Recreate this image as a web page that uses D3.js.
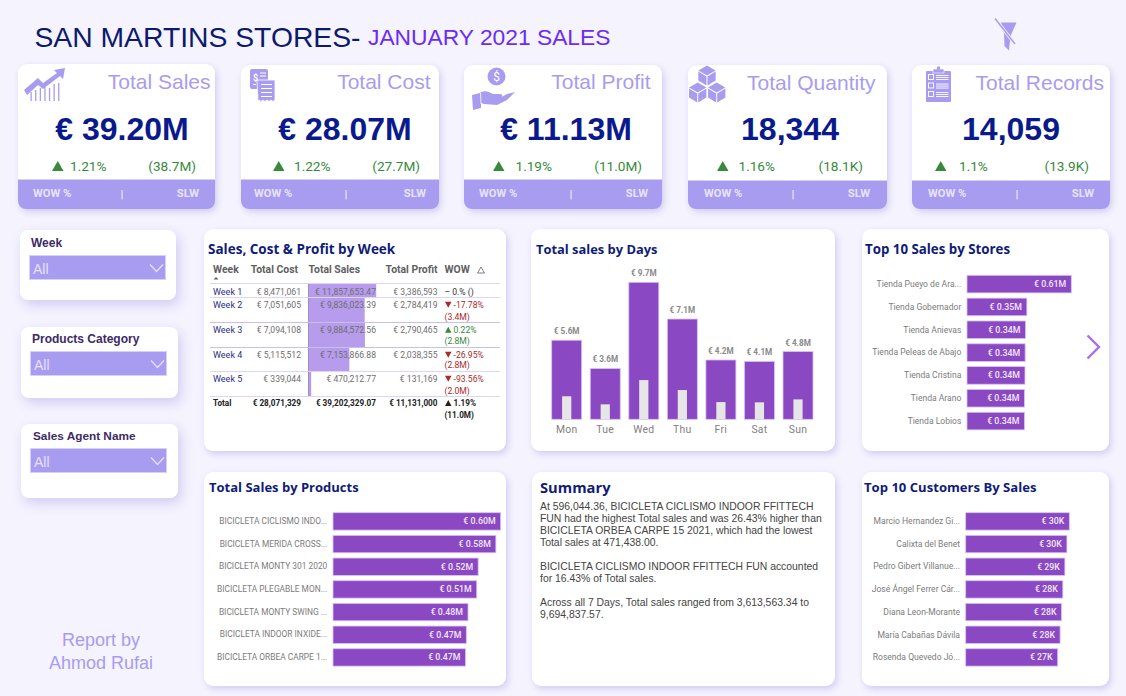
<!DOCTYPE html>
<html>
<head>
<meta charset="utf-8">
<script src="https://cdn.jsdelivr.net/npm/d3@7"></script>
<style>
html,body{margin:0;padding:0;background:#F4F3FE;overflow:hidden}
svg{display:block}
text{font-family:Roboto,sans-serif}
.arial,.arial text{font-family:"Liberation Sans",Arial,sans-serif}
.title{font-family:"Open Sans",sans-serif;font-weight:700;fill:#101C78}
.card{fill:#fff;filter:drop-shadow(2px 3px 3px rgba(170,155,230,.45))}
.slicer{fill:#fff;filter:drop-shadow(3px 5px 6px rgba(170,155,230,.45))}
</style>
</head>
<body>
<div id="dash"></div>
<script>
// KPI tiles
const kpiTitles = ["Total Sales", "Total Cost", "Total Profit", "Total Quantity", "Total Records"];
const kpiValues = ["€ 39.20M", "€ 28.07M", "€ 11.13M", "18,344", "14,059"];
const kpiWow = ["1.21%", "1.22%", "1.19%", "1.16%", "1.1%"];
const kpiSlw = ["(38.7M)", "(27.7M)", "(11.0M)", "(18.1K)", "(13.9K)"];

// Filters
const slicerNames = ["Week", "Products Category", "Sales Agent Name"];

// Weekly table
const weeks = ["Week 1", "Week 2", "Week 3", "Week 4", "Week 5"];
const weekCost = [8471061, 7051605, 7094108, 5115512, 339044];
const weekSales = [11857653.47, 9836023.39, 9884572.56, 7153866.88, 470212.77];
const weekProfit = [3386593, 2784419, 2790465, 2038355, 131169];
const weekWow = [0, -17.78, 0.22, -26.95, -93.56];
const weekPrev = ["", "(3.4M)", "(2.8M)", "(2.8M)", "(2.0M)"];
const totalCost = 28071329, totalSales = 39202329.07, totalProfit = 11131000;

// Sales by weekday, in millions
const days = ["Mon", "Tue", "Wed", "Thu", "Fri", "Sat", "Sun"];
const daySales = [5.6, 3.6, 9.7, 7.1, 4.2, 4.1, 4.8];
const dayProfit = [1.63, 1.06, 2.78, 2.07, 1.22, 1.2, 1.41];

// Ranked lists
const stores = ["Tienda Pueyo de Ara...", "Tienda Gobernador", "Tienda Anievas", "Tienda Peleas de Abajo", "Tienda Cristina", "Tienda Arano", "Tienda Lobios"];
const storeSales = [0.61, 0.35, 0.342, 0.34, 0.339, 0.336, 0.336];
const products = ["BICICLETA CICLISMO INDO...", "BICICLETA MERIDA CROSS...", "BICICLETA MONTY 301 2020", "BICICLETA PLEGABLE MON...", "BICICLETA MONTY SWING ...", "BICICLETA INDOOR INXIDE...", "BICICLETA ORBEA CARPE 1..."];
const productSales = [0.596, 0.579, 0.516, 0.511, 0.48, 0.474, 0.471];
const customers = ["Marcio Hernandez Gi...", "Calixta del Benet", "Pedro Gibert Villanue...", "José Ángel Ferrer Cár...", "Diana Leon-Morante", "María Cabañas Dávila", "Rosenda Quevedo Jó..."];
const customerSales = [30.3, 29.6, 29.0, 28.4, 28.0, 27.6, 26.9];

const summaryLines = [
  "At 596,044.36, BICICLETA CICLISMO INDOOR FFITTECH",
  "FUN had the highest Total sales and was 26.43% higher than",
  "BICICLETA ORBEA CARPE 15 2021, which had the lowest",
  "Total sales at 471,438.00.",
  "BICICLETA CICLISMO INDOOR FFITTECH FUN accounted",
  "for 16.43% of Total sales.",
  "Across all 7 Days, Total sales ranged from 3,613,563.34 to",
  "9,694,837.57."
];

const LILAC = "#A89CF0", PURPLE = "#8B48C3", BAR_EDGE = "#D8C4F4", GREEN = "#378A3C", RED = "#A82A2A", NAVY = "#0A1A8C";

const svg = d3.select("#dash").append("svg").attr("width", 1126).attr("height", 696);

function txt(parent, x, y, s, o = {}) {
  const t = parent.append("text").attr("x", x).attr("y", y).text(s)
    .attr("font-size", o.size || 10).attr("fill", o.fill || "#666");
  if (o.anchor) t.attr("text-anchor", o.anchor);
  if (o.weight) t.attr("font-weight", o.weight);
  if (o.cls) t.attr("class", o.cls);
  return t;
}
function tri(parent, x, yTop, w, h, color, up) {
  const p = up ? [[x, yTop + h], [x + w / 2, yTop], [x + w, yTop + h]] : [[x, yTop], [x + w, yTop], [x + w / 2, yTop + h]];
  return parent.append("path").attr("d", d3.line()(p) + "Z").attr("fill", color);
}

// Page heading
txt(svg, 34.5, 47, "SAN MARTINS STORES-", { size: 28.3, fill: "#0B1A6B", cls: "arial" });
txt(svg, 368, 45.4, "JANUARY 2021 SALES", { size: 22.8, fill: "#6A2CF5", cls: "arial" });

// KPI tiles
const tileBox = [[18, 64, 197], [241, 65, 198], [464, 65, 198], [688, 65, 199], [912, 65, 198]];
const tileCfg = [
  { titleR: 210.5, valueC: 122, tri: 52, pct: 70, slwR: 196, wow: 33, bar: 122, slw: 199 },
  { titleR: 430.5, valueC: 345, tri: 273, pct: 294, slwR: 420, wow: 254, bar: 346, slw: 426 },
  { titleR: 650.5, valueC: 566, tri: 493, pct: 515.5, slwR: 642, wow: 479, bar: 571, slw: 648 },
  { titleR: 875.5, valueC: 790, tri: 717, pct: 738.5, slwR: 863, wow: 704, bar: 793, slw: 870 },
  { titleR: 1104, valueC: 1011, tri: 935, pct: 959, slwR: 1089, wow: 928, bar: 1017, slw: 1094 }
];
kpiTitles.forEach((name, i) => {
  const [x, y, w] = tileBox[i], c = tileCfg[i], bottom = 209, bandTop = i > 2 ? 181 : 180;
  const g = svg.append("g");
  g.append("rect").attr("class", "card").attr("x", x).attr("y", y).attr("width", w).attr("height", bottom - y).attr("rx", 9);
  g.append("path").attr("fill", LILAC)
    .attr("d", `M${x},${bandTop}H${x + w}V${bottom - 8}a8,8 0 0 1 -8,8H${x + 8}a8,8 0 0 1 -8,-8Z`);
  g.append("line").attr("x1", x).attr("x2", x + w).attr("y1", bandTop - .5).attr("y2", bandTop - .5).attr("stroke", "#D6D0F8");
  txt(g, c.titleR, i > 2 ? 90 : 89, name, { size: 21, fill: LILAC, anchor: "end", cls: "arial" });
  txt(g, c.valueC, 140, kpiValues[i], { size: 32, fill: NAVY, anchor: "middle", weight: 700, cls: "arial" });
  tri(g, c.tri, 161, 11.5, 10, GREEN, true);
  txt(g, c.pct, 171, kpiWow[i], { size: 13.6, fill: GREEN });
  txt(g, c.slwR, 171, kpiSlw[i], { size: 13.6, fill: GREEN, anchor: "end" });
  txt(g, c.wow, 197, "WOW %", { size: 11.2, fill: "#E8E3FC", weight: 700 });
  txt(g, c.bar, 198, "|", { size: 11.5, fill: "#F0ECFE", anchor: "middle", weight: 700 });
  txt(g, c.slw, 197, "SLW", { size: 11.2, fill: "#E8E3FC", anchor: "end", weight: 700 });
});

// Tile pictograms
const ic = svg.append("g").attr("fill", LILAC);
ic.append("path").attr("d", "M24,90 L38,78 L43,83 L57,73 L54,70 L65,68 L63,79 L60,76 L43,89 L38,85 L27,95Z");
d3.range(7).forEach(i => ic.append("rect").attr("x", 30.5 + i * 4.6).attr("y", [92, 90, 88, 86, 88, 84, 83][i]).attr("width", 1.3).attr("height", 101 - [92, 90, 88, 86, 88, 84, 83][i]));

ic.append("rect").attr("x", 250).attr("y", 69).attr("width", 18).attr("height", 20).attr("rx", 2);
ic.append("path").attr("d", "M257,80 H275 V100 l-2,1.5 -2,-1.5 -2,1.5 -2,-1.5 -2,1.5 -2,-1.5 -2,1.5 -2,-1.5 -1,1.5Z").attr("stroke", "#fff").attr("stroke-width", .8);
txt(ic, 253, 81, "$", { size: 9, fill: "#fff", weight: 700 });
[[260, 72.5, 6], [260, 75.5, 6], [253, 84, 3], [261, 84, 11], [261, 88, 11], [261, 92, 11], [261, 96, 11]].forEach(d =>
  ic.append("rect").attr("x", d[0]).attr("y", d[1]).attr("width", d[2]).attr("height", 1).attr("fill", "#fff"));

ic.append("circle").attr("cx", 496.5).attr("cy", 76.5).attr("r", 9);
txt(ic, 496.5, 81, "$", { size: 12, fill: "#fff", anchor: "middle" });
ic.append("path").attr("d", "M472,95 L480,93 C484,90 488,91 493,94 L500,94 C503,94 503,97 500,98 L507,94 L515,92 L507,100 L497,105 L484,104 L481,103 L481,108 L473,110Z");
ic.append("line").attr("x1", 480.5).attr("y1", 93).attr("x2", 481).attr("y2", 104).attr("stroke", "#fff").attr("stroke-width", .8);

const cube = (cx, cy, r) => {
  const h = r * 0.866, top = [[cx, cy - r], [cx + h, cy - r / 2], [cx, cy], [cx - h, cy - r / 2]],
    left = [[cx - h, cy - r / 2 + 1], [cx - .5, cy + 1], [cx - .5, cy + r], [cx - h, cy + r / 2]],
    right = [[cx + h, cy - r / 2 + 1], [cx + .5, cy + 1], [cx + .5, cy + r], [cx + h, cy + r / 2]];
  [top, left, right].forEach(p => ic.append("path").attr("d", d3.line()(p) + "Z"));
};
cube(707, 75.5, 10); cube(697.7, 92.5, 10); cube(716.7, 92.5, 10);

ic.append("rect").attr("x", 926).attr("y", 71).attr("width", 25).attr("height", 31).attr("rx", 1);
ic.append("rect").attr("x", 933).attr("y", 69).attr("width", 11).attr("height", 4).attr("stroke", "#fff").attr("stroke-width", .6);
ic.append("circle").attr("cx", 938.5).attr("cy", 68).attr("r", 1.8);
[77, 85.5, 94].forEach(y => {
  ic.append("rect").attr("x", 928.5).attr("y", y - 2.5).attr("width", 5).attr("height", 5).attr("fill", "none").attr("stroke", "#fff").attr("stroke-width", .9);
  [-1.5, 0.5, 2.5].forEach(d => ic.append("rect").attr("x", 936).attr("y", y + d - .4).attr("width", 12.5).attr("height", .9).attr("fill", "#fff"));
});

// Clear-filters glyph
ic.append("path").attr("d", "M1001,22.5 H1016.5 L1010.5,36 L1009,50.5 L1004.5,46 L1004,33Z");
ic.append("line").attr("x1", 995).attr("y1", 18.5).attr("x2", 1015).attr("y2", 44).attr("stroke", "#F4F3FE").attr("stroke-width", 3);
ic.append("line").attr("x1", 995).attr("y1", 18.5).attr("x2", 1015).attr("y2", 44).attr("stroke", LILAC).attr("stroke-width", 1.5);

// Filter cards
const slicerBox = [[20, 230, 156, 70, 30, 256], [21, 327, 157, 71, 31, 352], [21, 424, 157, 74, 31, 449]];
slicerNames.forEach((name, i) => {
  const [x, y, w, h, dx, dy] = slicerBox[i], g = svg.append("g");
  g.append("rect").attr("class", "slicer").attr("x", x).attr("y", y).attr("width", w).attr("height", h).attr("rx", 8);
  txt(g, dx + (i === 2 ? 2 : 1), dy - 9, name, { size: i === 2 ? 11.8 : 12, fill: "#3D2A66", weight: 700, cls: "arial" });
  g.append("rect").attr("x", dx - .5).attr("y", dy - .5).attr("width", 136).attr("height", 24).attr("fill", LILAC).attr("stroke", "#D6D0F8");
  txt(g, dx + 3, dy + 18, "All", { size: 14, fill: "#E6E1FC", cls: "arial" });
  g.append("path").attr("d", `M${dx + 120},${dy + 8.5} L${dx + 126.5},${dy + 15.5} L${dx + 133},${dy + 8.5}`).attr("fill", "none").attr("stroke", "#E4DFFC").attr("stroke-width", 1.4);
});

// Report panels
[[204, 229, 302, 222], [531, 229, 304, 222], [862, 229, 247, 222], [204, 472, 302, 214], [532, 472, 303, 214], [862, 472, 247, 214]].forEach(b =>
  svg.append("rect").attr("class", "card").attr("x", b[0]).attr("y", b[1]).attr("width", b[2]).attr("height", b[3]).attr("rx", 9));
txt(svg, 208, 254, "Sales, Cost & Profit by Week", { size: 13.5, cls: "title" });
txt(svg, 536, 254, "Total sales by Days", { size: 12.9, cls: "title" });
txt(svg, 865, 254, "Top 10 Sales by Stores", { size: 13.3, cls: "title" });
txt(svg, 209, 492, "Total Sales by Products", { size: 13, cls: "title" });
txt(svg, 540, 493, "Summary", { size: 14.7, cls: "title" });
txt(svg, 864, 492, "Top 10 Customers By Sales", { size: 13.1, cls: "title" });

// Weekly table
const tbl = svg.append("g");
const COL = { week: 213, cost: 301, salesR: 376, salesX: 308.5, profit: 437.5, wow: 444.5 };
const HEAD = "#5F5F5F", NUM = "#6E6E6E";
const TS = 8.6, HS = 10.4;
txt(tbl, COL.week, 273, "Week", { size: HS, fill: HEAD, weight: 700 });
txt(tbl, 298, 273, "Total Cost", { size: HS, fill: HEAD, weight: 700, anchor: "end" });
txt(tbl, 360, 273, "Total Sales", { size: HS, fill: HEAD, weight: 700, anchor: "end" });
txt(tbl, COL.profit, 273, "Total Profit", { size: HS, fill: HEAD, weight: 700, anchor: "end" });
txt(tbl, COL.wow, 273, "WOW", { size: HS, fill: HEAD, weight: 700 });
tri(tbl, 477.5, 267, 7, 6, "none", true).attr("stroke", HEAD).attr("stroke-width", .8);
tri(tbl, 213.5, 277, 5, 2.5, HEAD, true);

const ruleY = [283.5, 297.5, 322.5, 347.5, 371.5, 396.5];
const rowText = [294.7, 307.7, 332.7, 357.7, 381.7];
const row2Text = [0, 319.7, 343.7, 368.3, 393.7];
const salesBar = d3.scaleLinear().domain([0, d3.max(weekSales)]).range([0, 67.7]);
const money0 = d3.format(",.0f"), money2 = d3.format(",.2f");

tbl.selectAll("rect.salesbar").data(weekSales).join("rect").attr("class", "salesbar")
  .attr("x", COL.salesX).attr("y", (d, i) => ruleY[i] + .5)
  .attr("width", d => salesBar(d)).attr("height", (d, i) => ruleY[i + 1] - ruleY[i] - 1).attr("fill", "#B79BEC");
tbl.append("line").attr("x1", COL.salesX).attr("x2", COL.salesX).attr("y1", ruleY[0]).attr("y2", ruleY[5]).attr("stroke", "#8A80B8").attr("stroke-width", .8);
ruleY.forEach((y, i) => tbl.append("line").attr("x1", 210).attr("x2", 500).attr("y1", y).attr("y2", y)
  .attr("stroke", i === 2 || i === 3 ? "#C9C0EA" : "#DCD5F6").attr("stroke-width", 1));

weeks.forEach((wk, i) => {
  const y = rowText[i], v = weekWow[i];
  txt(tbl, COL.week, y, wk, { size: TS + .4, fill: "#2C2C8A" });
  txt(tbl, COL.cost, y, "€ " + money0(weekCost[i]), { size: TS, fill: NUM, anchor: "end" });
  txt(tbl, COL.salesR, y, "€ " + money2(weekSales[i]), { size: TS, fill: NUM, anchor: "end" });
  txt(tbl, COL.profit, y, "€ " + money0(weekProfit[i]), { size: TS, fill: NUM, anchor: "end" });
  if (v === 0) {
    txt(tbl, COL.wow, y, "– 0.% ()", { size: TS, fill: "#333" });
  } else {
    const col = v > 0 ? GREEN : RED;
    tri(tbl, COL.wow + .5, y - 6, 6.5, 6, col, v > 0);
    txt(tbl, COL.wow + 9, y, d3.format(".2f")(v).replace("−", "-") + "%", { size: TS, fill: col });
    txt(tbl, COL.wow, row2Text[i], weekPrev[i], { size: TS, fill: col });
  }
});
txt(tbl, COL.week, 406, "Total", { size: 8.2, fill: "#222", weight: 700 });
txt(tbl, COL.cost, 406, "€ " + money0(totalCost), { size: 8.2, fill: "#222", weight: 700, anchor: "end" });
txt(tbl, COL.salesR, 406, "€ " + money2(totalSales), { size: 8.2, fill: "#222", weight: 700, anchor: "end" });
txt(tbl, COL.profit, 406, "€ " + money0(totalProfit), { size: 8.2, fill: "#222", weight: 700, anchor: "end" });
tri(tbl, COL.wow + .5, 400, 6.5, 6, "#222", true);
txt(tbl, COL.wow + 9, 406, kpiWow[2], { size: 8.2, fill: "#222", weight: 700 });
txt(tbl, COL.wow, 418, kpiSlw[2], { size: 8.2, fill: "#222", weight: 700 });

// Weekday columns with the profit column nested inside
const dayG = svg.append("g");
const xDay = d3.scaleBand().domain(days).range([551.7, 813]).paddingInner(0.222);
const yDay = d3.scaleLinear().domain([0, 9.7]).range([419.3, 282.3]);
dayG.selectAll("rect.sales").data(days).join("rect").attr("class", "sales")
  .attr("x", d => xDay(d)).attr("width", xDay.bandwidth())
  .attr("y", (d, i) => yDay(daySales[i])).attr("height", (d, i) => yDay(0) - yDay(daySales[i]))
  .attr("fill", PURPLE).attr("stroke", BAR_EDGE).attr("stroke-width", .8);
dayG.selectAll("rect.profit").data(days).join("rect").attr("class", "profit")
  .attr("x", d => xDay(d) + xDay.bandwidth() / 2 - 4.6).attr("width", 9.2)
  .attr("y", (d, i) => yDay(dayProfit[i])).attr("height", (d, i) => yDay(0) - yDay(dayProfit[i]))
  .attr("fill", "#E6E6E6");
dayG.selectAll("text.val").data(days).join("text").attr("class", "val")
  .attr("x", d => xDay(d) + xDay.bandwidth() / 2).attr("y", (d, i) => yDay(daySales[i]) - 6)
  .attr("text-anchor", "middle").attr("font-size", 8.2).attr("font-weight", 700).attr("fill", "#8A8A8A")
  .text((d, i) => `€ ${d3.format(".1f")(daySales[i])}M`);
const dayAxis = dayG.append("g").attr("transform", "translate(0,419.3)")
  .call(d3.axisBottom(xDay).tickSize(0).tickPadding(6));
dayAxis.select(".domain").remove();
dayAxis.selectAll("text").attr("font-size", 10.4).attr("fill", "#808080").attr("font-family", "Roboto,sans-serif").attr("letter-spacing", .3);

// Horizontal ranking chart
function ranking({ names, values, x0, perUnit, top, step, band, labelR, fmt, labelSize }) {
  const g = svg.append("g");
  const inner = 1 - band / step;
  const y = d3.scaleBand().domain(names).range([top, top + step * (names.length - 1) + band]).paddingInner(inner);
  const x = d3.scaleLinear().domain([0, d3.max(values)]).range([0, d3.max(values) * perUnit]);
  const row = g.selectAll("g.row").data(names).join("g").attr("class", "row");
  row.append("rect").attr("x", x0).attr("y", d => y(d)).attr("height", y.bandwidth())
    .attr("width", (d, i) => x(values[i])).attr("fill", PURPLE).attr("stroke", BAR_EDGE).attr("stroke-width", .8);
  row.append("text").attr("x", (d, i) => x0 + x(values[i]) - 5).attr("y", d => y(d) + y.bandwidth() / 2 + 3)
    .attr("text-anchor", "end").attr("font-size", 8.8).attr("font-weight", 500).attr("fill", "#F0E9FB")
    .text((d, i) => fmt(values[i]));
  const ax = g.append("g").attr("transform", `translate(${labelR},0)`).call(d3.axisLeft(y).tickSize(0).tickPadding(0));
  ax.select(".domain").remove();
  ax.selectAll("text").attr("font-size", labelSize).attr("fill", "#7C7C7C").attr("font-family", "Roboto,sans-serif");
}
const fmtM = v => `€ ${d3.format(".2f")(v)}M`, fmtK = v => `€ ${d3.format(".0f")(v)}K`;
ranking({ names: stores, values: storeSales, x0: 967, perUnit: 171, top: 275.3, step: 22.83, band: 17.6, labelR: 961.3, fmt: fmtM, labelSize: 8.55 });
ranking({ names: products, values: productSales, x0: 333, perUnit: 281.3, top: 512.7, step: 22.67, band: 17.4, labelR: 327.3, fmt: fmtM, labelSize: 8.4 });
ranking({ names: customers, values: customerSales, x0: 965.7, perUnit: 3.42, top: 512.7, step: 22.67, band: 17.4, labelR: 960, fmt: fmtK, labelSize: 8.55 });

// Next-page arrow for the store list
svg.append("path").attr("d", "M1087.5,335.5 L1099,347 L1087.5,358.5").attr("fill", "none").attr("stroke", "#A96CF5").attr("stroke-width", 2.4);

// Narrative text
const summaryY = [509.5, 521.7, 534, 546, 570, 582, 606, 618];
summaryLines.forEach((s, i) => txt(svg, 540, summaryY[i], s, { size: 10.4, fill: "#444", cls: "arial" }));

// Credit
txt(svg, 101, 646, "Report by", { size: 18, fill: LILAC, anchor: "middle", cls: "arial" });
txt(svg, 101, 669, "Ahmod Rufai", { size: 18, fill: LILAC, anchor: "middle", cls: "arial" });
</script>
</body>
</html>
